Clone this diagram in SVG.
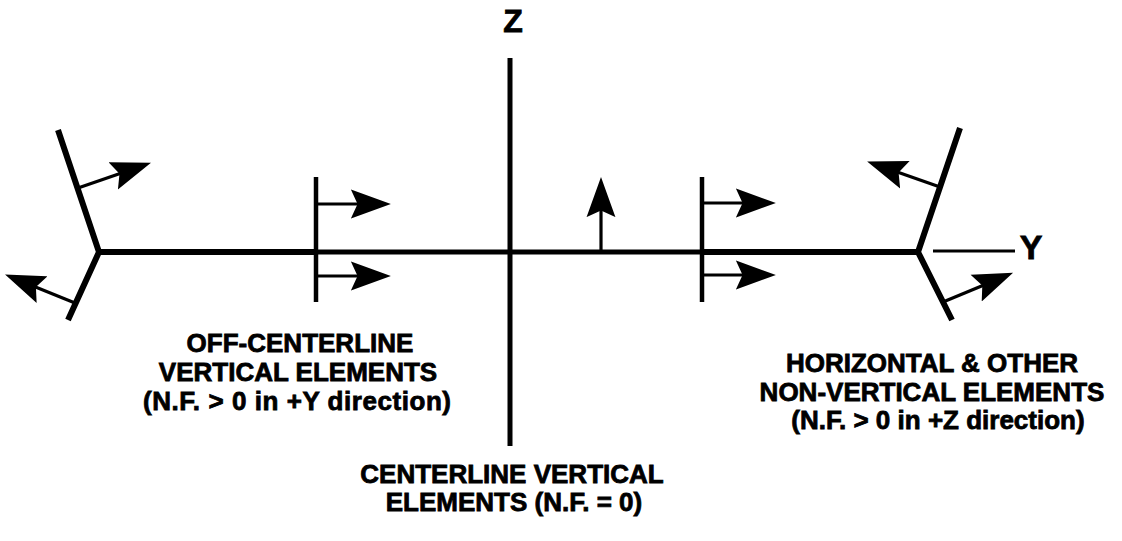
<svg xmlns="http://www.w3.org/2000/svg" width="1122" height="541" viewBox="0 0 1122 541">
<style>
.el{stroke:#000;fill:none;stroke-linecap:butt;stroke-linejoin:miter}
.thick{stroke-width:6}
.mid{stroke-width:5}
.vert{stroke-width:4.5}
.shaft{stroke:#000;stroke-width:3.2;fill:none}
.lbl{font-family:"Liberation Sans",Arial,Helvetica,sans-serif;font-weight:bold;fill:#000;stroke:#000;stroke-width:0.8;text-anchor:middle}
</style>
<defs>
<marker id="ah" markerUnits="userSpaceOnUse" markerWidth="40" markerHeight="30" viewBox="0 0 36 26" refX="10" refY="13" orient="auto">
<path d="M36,13 L0,0 L6,13 L0,26 Z" fill="#000"/>
</marker>
</defs>
<rect width="1122" height="541" fill="#fff"/>

<g id="z-axis">
<line class="el mid" x1="510" y1="58" x2="510" y2="446"/>
<text class="lbl" x="513" y="32" font-size="32">Z</text>
</g>

<g id="y-axis">
<line class="el" stroke-width="3" x1="933" y1="251" x2="1015" y2="251"/>
<text class="lbl" x="1031" y="259" font-size="34">Y</text>
</g>

<g id="horizontal-elements">
<line class="el thick" x1="99" y1="252" x2="316" y2="252"/>
<line class="el mid" x1="316" y1="252" x2="702" y2="252"/>
<line class="el thick" x1="702" y1="252" x2="918" y2="252"/>
</g>

<g id="left-nonvertical-elements">
<polyline class="el thick" points="58,130 99,252 68,320"/>
</g>

<g id="left-offcenter-vertical-element">
<line class="el vert" x1="316" y1="177" x2="316" y2="302"/>
</g>

<g id="right-offcenter-vertical-element">
<line class="el vert" x1="702" y1="177" x2="702" y2="302"/>
</g>

<g id="right-nonvertical-elements">
<polyline class="el thick" points="960,128 918,252 952,320"/>
</g>

<g id="connectors">
<line class="shaft" x1="78" y1="188" x2="123.7" y2="172.2" marker-end="url(#ah)"/>
<line class="shaft" x1="75" y1="303" x2="31.8" y2="285.4" marker-end="url(#ah)"/>
<line class="shaft" x1="316" y1="204" x2="362" y2="204" marker-end="url(#ah)"/>
<line class="shaft" x1="316" y1="276" x2="362" y2="276" marker-end="url(#ah)"/>
<line class="shaft" x1="601" y1="252" x2="601" y2="206" marker-end="url(#ah)"/>
<line class="shaft" x1="702" y1="203" x2="747" y2="203" marker-end="url(#ah)"/>
<line class="shaft" x1="702" y1="275" x2="747" y2="275" marker-end="url(#ah)"/>
<line class="shaft" x1="940" y1="187" x2="894.4" y2="171.1" marker-end="url(#ah)"/>
<line class="shaft" x1="943" y1="302" x2="986.4" y2="283.9" marker-end="url(#ah)"/>
</g>

<g id="label-offcenterline">
<text class="lbl" font-size="26" x="300" y="352">OFF-CENTERLINE</text>
<text class="lbl" font-size="26" x="298" y="381">VERTICAL ELEMENTS</text>
<text class="lbl" font-size="26" x="297" y="410" textLength="308" lengthAdjust="spacing">(N.F. &gt; 0 in +Y direction)</text>
</g>

<g id="label-horizontal">
<text class="lbl" font-size="26" x="932" y="372">HORIZONTAL &amp; OTHER</text>
<text class="lbl" font-size="26" x="932" y="401">NON-VERTICAL ELEMENTS</text>
<text class="lbl" font-size="26" x="938" y="429">(N.F. &gt; 0 in +Z direction)</text>
</g>

<g id="label-centerline">
<text class="lbl" font-size="26" x="512" y="483">CENTERLINE VERTICAL</text>
<text class="lbl" font-size="26" x="514" y="511">ELEMENTS (N.F. = 0)</text>
</g>
</svg>
